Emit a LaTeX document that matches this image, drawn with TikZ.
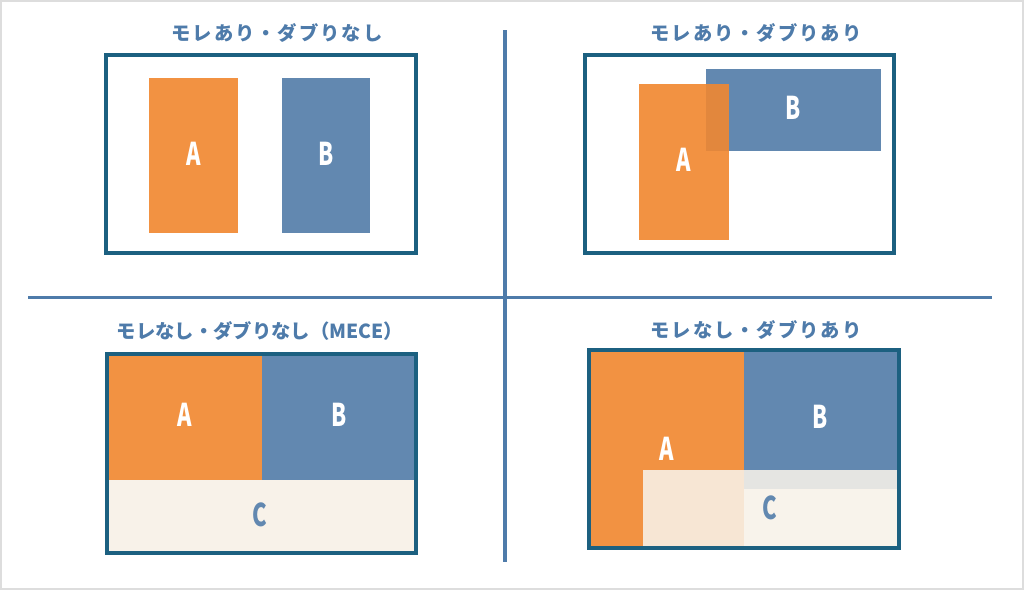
\documentclass[tikz,border=0pt]{standalone}
\usepackage{fontspec}
\newfontfamily\jp{Noto Sans CJK JP}[LetterSpace=10]
\newfontfamily\lab{Noto Sans CJK JP}
\definecolor{orangeA}{HTML}{F29242}
\definecolor{blueB}{HTML}{6288B0}
\definecolor{overlapAB}{HTML}{E2873D}
\definecolor{beigeC}{HTML}{F8F2E9}
\definecolor{frameC}{HTML}{1C6080}
\definecolor{lineC}{HTML}{4E7BAA}
\definecolor{titleC}{HTML}{4E7BAA}
\definecolor{borderC}{HTML}{DDDDDD}
\tikzset{
  frame/.style={draw=frameC, line width=2.4pt},
  title/.style={text=titleC, font=\jp\bfseries\fontsize{14.5pt}{16pt}\selectfont, inner sep=0pt},
  titlenarrow/.style={title, font=\lab\bfseries\fontsize{14.5pt}{16pt}\selectfont},
  lbl/.style={text=white, font=\lab\bfseries\fontsize{23.5pt}{24pt}\selectfont, xscale=0.7, inner sep=0pt},
  lblC/.style={lbl, text=blueB},
  divider/.style={draw=lineC, line width=2.3pt}
}
\begin{document}
\begin{tikzpicture}[x=0.75pt, y=-0.75pt]
\useasboundingbox (0,0) rectangle (1024,590);
\fill[white] (0,0) rectangle (1024,590);
\draw[borderC, line width=1.5pt] (1,1) rectangle (1023,589);

% dividers
\coordinate (vt) at (505,30);
\coordinate (vb) at (505,562);
\coordinate (hl) at (28,297.5);
\coordinate (hr) at (992,297.5);
\draw[divider] (vt) -- (vb);
\draw[divider] (hl) -- (hr);

% ---- top left ----
\node[title] (t1) at (277,33) {モレあり・ダブりなし};
\fill[orangeA] (149,78) rectangle (238,233);
\fill[blueB] (282,78) rectangle (370,233);
\node[lbl] (a1) at (194,154) {A};
\node[lbl] (b1) at (326,154) {B};
\draw[frame] (106,55) rectangle (416,253);

% ---- top right ----
\node[title] (t2) at (756,33) {モレあり・ダブりあり};
\fill[blueB] (706,69) rectangle (881,151);
\fill[orangeA] (639,84) rectangle (729,240);
\fill[overlapAB] (706,84) rectangle (729,151);
\node[lbl] (a2) at (684,160) {A};
\node[lbl] (b2) at (793,108) {B};
\draw[frame] (585,55) rectangle (894,253);

% ---- bottom left ----
\node[titlenarrow] (t3) at (260,331) {モレなし・ダブりなし（MECE）};
\fill[orangeA] (107,354) rectangle (262,480);
\fill[blueB] (262,354) rectangle (416,480);
\fill[beigeC] (107,480) rectangle (416,553);
\node[lbl] (a3) at (185,415) {A};
\node[lbl] (b3) at (339,415) {B};
\node[lblC] (c3) at (260,515) {C};
\draw[frame] (107,354) rectangle (416,553);

% ---- bottom right ----
\node[title] (t4) at (756,330) {モレなし・ダブりあり};
\fill[orangeA] (590,351) rectangle (744,548);
\fill[blueB] (744,351) rectangle (898,489);
\fill[beigeC, fill opacity=0.88] (643,470) rectangle (898,548);
\node[lbl] (a4) at (667,449) {A};
\node[lbl] (b4) at (820,417) {B};
\node[lblC] (c4) at (770,508) {C};
\draw[frame] (589,350) rectangle (899,548);
\end{tikzpicture}
\end{document}
